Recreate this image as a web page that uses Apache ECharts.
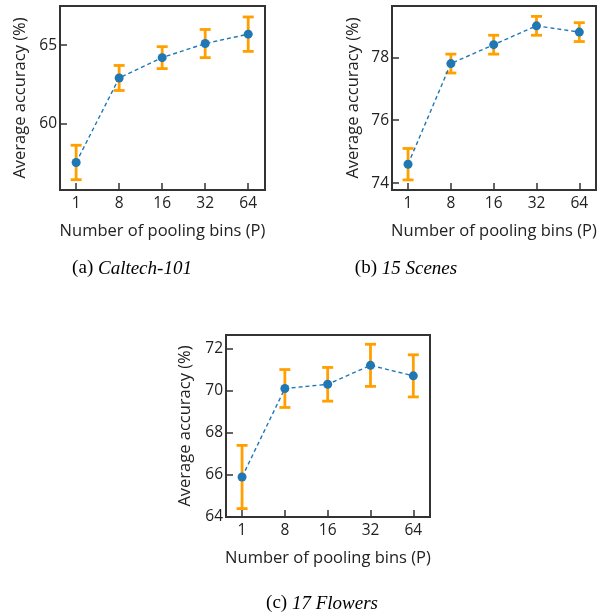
<!DOCTYPE html>
<html>
<head>
<meta charset="utf-8">
<script src="https://cdn.jsdelivr.net/npm/echarts@6/dist/echarts.min.js"></script>
<style>
  html, body { margin: 0; padding: 0; background: #fff; }
  #chart { width: 606px; height: 614px; }
</style>
</head>
<body>
<div id="chart"></div>
<script>
const bins = ['1', '8', '16', '32', '64'];

const caltechMean = [57.5, 62.9, 64.2, 65.1, 65.7];
const caltechErr = [1.1, 0.8, 0.7, 0.9, 1.1];

const scenesMean = [74.6, 77.8, 78.4, 79.0, 78.8];
const scenesErr = [0.5, 0.3, 0.3, 0.3, 0.3];

const flowersMean = [65.9, 70.1, 70.3, 71.2, 70.7];
const flowersErr = [1.5, 0.9, 0.8, 1.0, 1.0];

const caltechTicks = [60, 65];
const scenesTicks = [74, 76, 78];
const flowersTicks = [64, 66, 68, 70, 72];

const BLUE = '#1f77b4';
const ORANGE = '#ffa000';
const INK = '#333';
const FONT = 'Open Sans';
const idx = bins.map((_, i) => i);

const chart = echarts.init(document.getElementById('chart'), null, { renderer: 'canvas' });

// one panel = grid + x axis + y axis + error bars + line
const grids = [
  { left: 60, top: 6, width: 205, height: 184 },
  { left: 392, top: 6, width: 204, height: 184 },
  { left: 226, top: 335, width: 204, height: 182 }
];
const yRanges = [[55.74, 67.5], [73.78, 79.63], [64, 72.64]];
const yTicks = [caltechTicks, scenesTicks, flowersTicks];
const yGaps = [31, 30, 32];
const means = [caltechMean, scenesMean, flowersMean];
const errs = [caltechErr, scenesErr, flowersErr];

const errBar = (params, api) => {
  const x = api.value(0);
  const top = api.coord([x, api.value(2)]);
  const bot = api.coord([x, api.value(1)]);
  const cw = 5.5;
  const st = { stroke: ORANGE, lineWidth: 2.8 };
  return {
    type: 'group',
    children: [
      { type: 'line', shape: { x1: top[0], y1: top[1], x2: bot[0], y2: bot[1] }, style: st },
      { type: 'line', shape: { x1: top[0] - cw, y1: top[1], x2: top[0] + cw, y2: top[1] }, style: st },
      { type: 'line', shape: { x1: bot[0] - cw, y1: bot[1], x2: bot[0] + cw, y2: bot[1] }, style: st }
    ]
  };
};

const option = {
  backgroundColor: '#fff',
  animation: false,
  textStyle: { fontFamily: FONT },
  title: [
    { text: '{n|(a) }{i|Caltech-101}', left: 132, top: 259 },
    { text: '{n|(b) }{i|15 Scenes}', left: 406, top: 259 },
    { text: '{n|(c) }{i|17 Flowers}', left: 322, top: 594 }
  ].map(t => ({
    text: t.text,
    left: t.left,
    top: t.top,
    textAlign: 'center',
    padding: 0,
    textStyle: {
      fontWeight: 'normal',
      rich: {
        n: { fontFamily: 'Liberation Serif', fontSize: 19, fontWeight: 'normal', color: '#000' },
        i: { fontFamily: 'Liberation Serif', fontSize: 19, fontWeight: 'normal', fontStyle: 'italic', color: '#000' }
      }
    }
  })),
  grid: grids.map(g => Object.assign({ show: true, borderColor: INK, borderWidth: 2, backgroundColor: 'transparent' }, g)),
  xAxis: grids.map((g, k) => ({
    type: 'value',
    gridIndex: k,
    min: -0.375,
    max: 4.39,
    name: 'Number of pooling bins (P)',
    nameLocation: 'middle',
    nameGap: 33,
    nameTextStyle: { fontFamily: FONT, fontSize: 16.5, color: '#222' },
    axisLine: { show: true, onZero: false, lineStyle: { color: INK, width: 2 } },
    splitLine: { show: false },
    axisTick: { show: true, inside: true, length: 7, customValues: idx, lineStyle: { color: INK, width: 1.5 } },
    axisLabel: { customValues: idx, margin: 6, fontSize: 15.5, color: '#222', fontFamily: FONT, formatter: v => bins[Math.round(v)] }
  })),
  yAxis: grids.map((g, k) => ({
    type: 'value',
    gridIndex: k,
    min: yRanges[k][0],
    max: yRanges[k][1],
    name: 'Average accuracy (%)',
    nameLocation: 'middle',
    nameGap: yGaps[k],
    nameTextStyle: { fontFamily: FONT, fontSize: 16.5, color: '#222' },
    axisLine: { show: true, onZero: false, lineStyle: { color: INK, width: 2 } },
    splitLine: { show: false },
    axisTick: { show: true, inside: true, length: 7, customValues: yTicks[k], lineStyle: { color: INK, width: 1.5 } },
    axisLabel: { customValues: yTicks[k], margin: 3, fontSize: 15.5, color: '#222', fontFamily: FONT }
  })),
  series: []
};

means.forEach((m, k) => {
  option.series.push({
    type: 'custom',
    xAxisIndex: k,
    yAxisIndex: k,
    renderItem: errBar,
    z: 2,
    data: m.map((v, i) => [i, v - errs[k][i], v + errs[k][i]])
  });
  option.series.push({
    type: 'line',
    xAxisIndex: k,
    yAxisIndex: k,
    z: 3,
    data: m.map((v, i) => [i, v]),
    symbol: 'circle',
    symbolSize: 9,
    itemStyle: { color: BLUE },
    lineStyle: { color: BLUE, width: 1.4, type: [4, 3] }
  });
});

chart.setOption(option);
</script>
</body>
</html>
